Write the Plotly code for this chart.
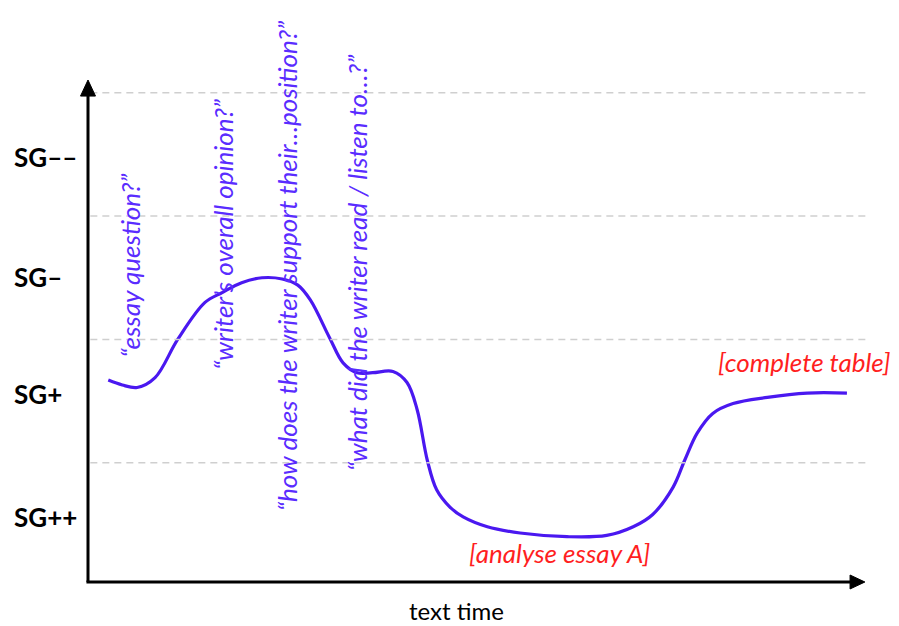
import plotly.graph_objects as go

# ---- data ----
# text time (0-100) vs semantic gravity level (gridlines at 1,2,3,4)
time_pts = [2.6, 4.4, 6.3, 8.6, 11.5, 15.0, 17.2, 19.7, 22.3, 24.9, 26.9, 28.5,
            31.0, 32.7, 34.5, 36.5, 39.1, 40.9, 42.2, 43.5, 44.7, 46.4, 48.1,
            51.2, 55.4, 61.4, 66.5, 69.9, 72.4, 75.0, 76.5, 78.1, 80.1, 82.7,
            87.1, 92.2, 97.3]
wave_vals = [1.67, 1.63, 1.61, 1.69, 2.00, 2.30, 2.38, 2.46, 2.50, 2.49, 2.44, 2.32,
             2.01, 1.81, 1.73, 1.73, 1.74, 1.65, 1.43, 1.02, 0.78, 0.64, 0.56,
             0.48, 0.43, 0.40, 0.41, 0.48, 0.58, 0.80, 1.02, 1.24, 1.40, 1.48,
             1.53, 1.565, 1.565]

level_labels = ["SG++", "SG+", "SG–", "SG––"]
level_label_pos = [0.56, 1.56, 2.51, 3.48]
grid_levels = [1, 2, 3, 4]

questions = ["“essay question?”",
             "“writer’s overall opinion?”",
             "“how does the writer support their…position?”",
             "“what did the writer read / listen to…?”"]
question_x = [5.38, 17.31, 25.51, 34.49]
question_y = [2.60, 2.85, 2.595, 2.62]

tasks = ["[complete table]", "[analyse essay A]"]
task_x = [91.9, 60.5]
task_y = [1.817, 0.268]

x_title = "text time"
x_title_pos = (47.3, -0.20)

# ---- styles ----
LINE_COL = "#4a18f0"
TEXT_COL = "#5a2cff"
RED = "#ff1f1f"
FONT = "Lato"

X0, X1 = 0, 100
Y0, Y1 = 0.0324, 4.104


def px_(x):
    return (x - X0) / (X1 - X0)


def py_(y):
    return (y - Y0) / (Y1 - Y0)


fig = go.Figure()
fig.add_trace(go.Scatter(x=time_pts, y=wave_vals, mode="lines",
                         line=dict(color=LINE_COL, width=3.2, shape="spline", smoothing=1.0),
                         hoverinfo="skip", showlegend=False))

shapes = []
for g in grid_levels:
    shapes.append(dict(type="line", xref="x", yref="y", x0=0.3, x1=100, y0=g, y1=g,
                       line=dict(color="#cfcfcf", width=1.5, dash="7px,5px")))
# axes with arrowheads (paper coordinates)
shapes.append(dict(type="line", xref="paper", yref="paper", x0=0, x1=0, y0=0, y1=0.97,
                   line=dict(color="black", width=3)))
shapes.append(dict(type="line", xref="paper", yref="paper", x0=-0.002, x1=0.98, y0=0, y1=0,
                   line=dict(color="black", width=3)))
shapes.append(dict(type="path", xref="paper", yref="paper",
                   path="M -0.0096,0.968 L 0.0096,0.968 L 0,1.0 Z",
                   fillcolor="black", line=dict(color="black", width=1)))
shapes.append(dict(type="path", xref="paper", yref="paper",
                   path="M 0.977,0.0139 L 0.977,-0.0139 L 0.996,0 Z",
                   fillcolor="black", line=dict(color="black", width=1)))

annotations = []
for lab, pos in zip(level_labels, level_label_pos):
    annotations.append(dict(x=-0.0974, y=py_(pos), xref="paper", yref="paper", text=lab,
                            showarrow=False, xanchor="left", yanchor="middle",
                            font=dict(family=FONT, size=26, color="black", weight="bold")))
for q, qx, qy in zip(questions, question_x, question_y):
    annotations.append(dict(x=qx, y=qy, xref="x", yref="y", text=q, showarrow=False,
                            textangle=-90, xanchor="center", yanchor="middle",
                            font=dict(family=FONT, size=26, color=TEXT_COL, style="italic")))
for t, tx, ty in zip(tasks, task_x, task_y):
    annotations.append(dict(x=tx, y=ty, xref="x", yref="y", text=t, showarrow=False,
                            xanchor="center", yanchor="middle",
                            font=dict(family=FONT, size=26, color=RED, style="italic")))
annotations.append(dict(x=px_(x_title_pos[0]), y=py_(x_title_pos[1]), xref="paper", yref="paper",
                        text=x_title, showarrow=False, xanchor="center", yanchor="middle",
                        font=dict(family=FONT, size=24, color="black")))

# page body adds an 8px offset; margins compensate so the plot lands where the reference has it
fig.update_layout(
    width=899, height=626,
    margin=dict(l=80, r=39, t=72, b=52),
    paper_bgcolor="white", plot_bgcolor="white",
    xaxis=dict(range=[X0, X1], visible=False, fixedrange=True),
    yaxis=dict(range=[Y0, Y1], visible=False, fixedrange=True),
    shapes=shapes, annotations=annotations,
    showlegend=False,
)

fig.write_html("out.html")
